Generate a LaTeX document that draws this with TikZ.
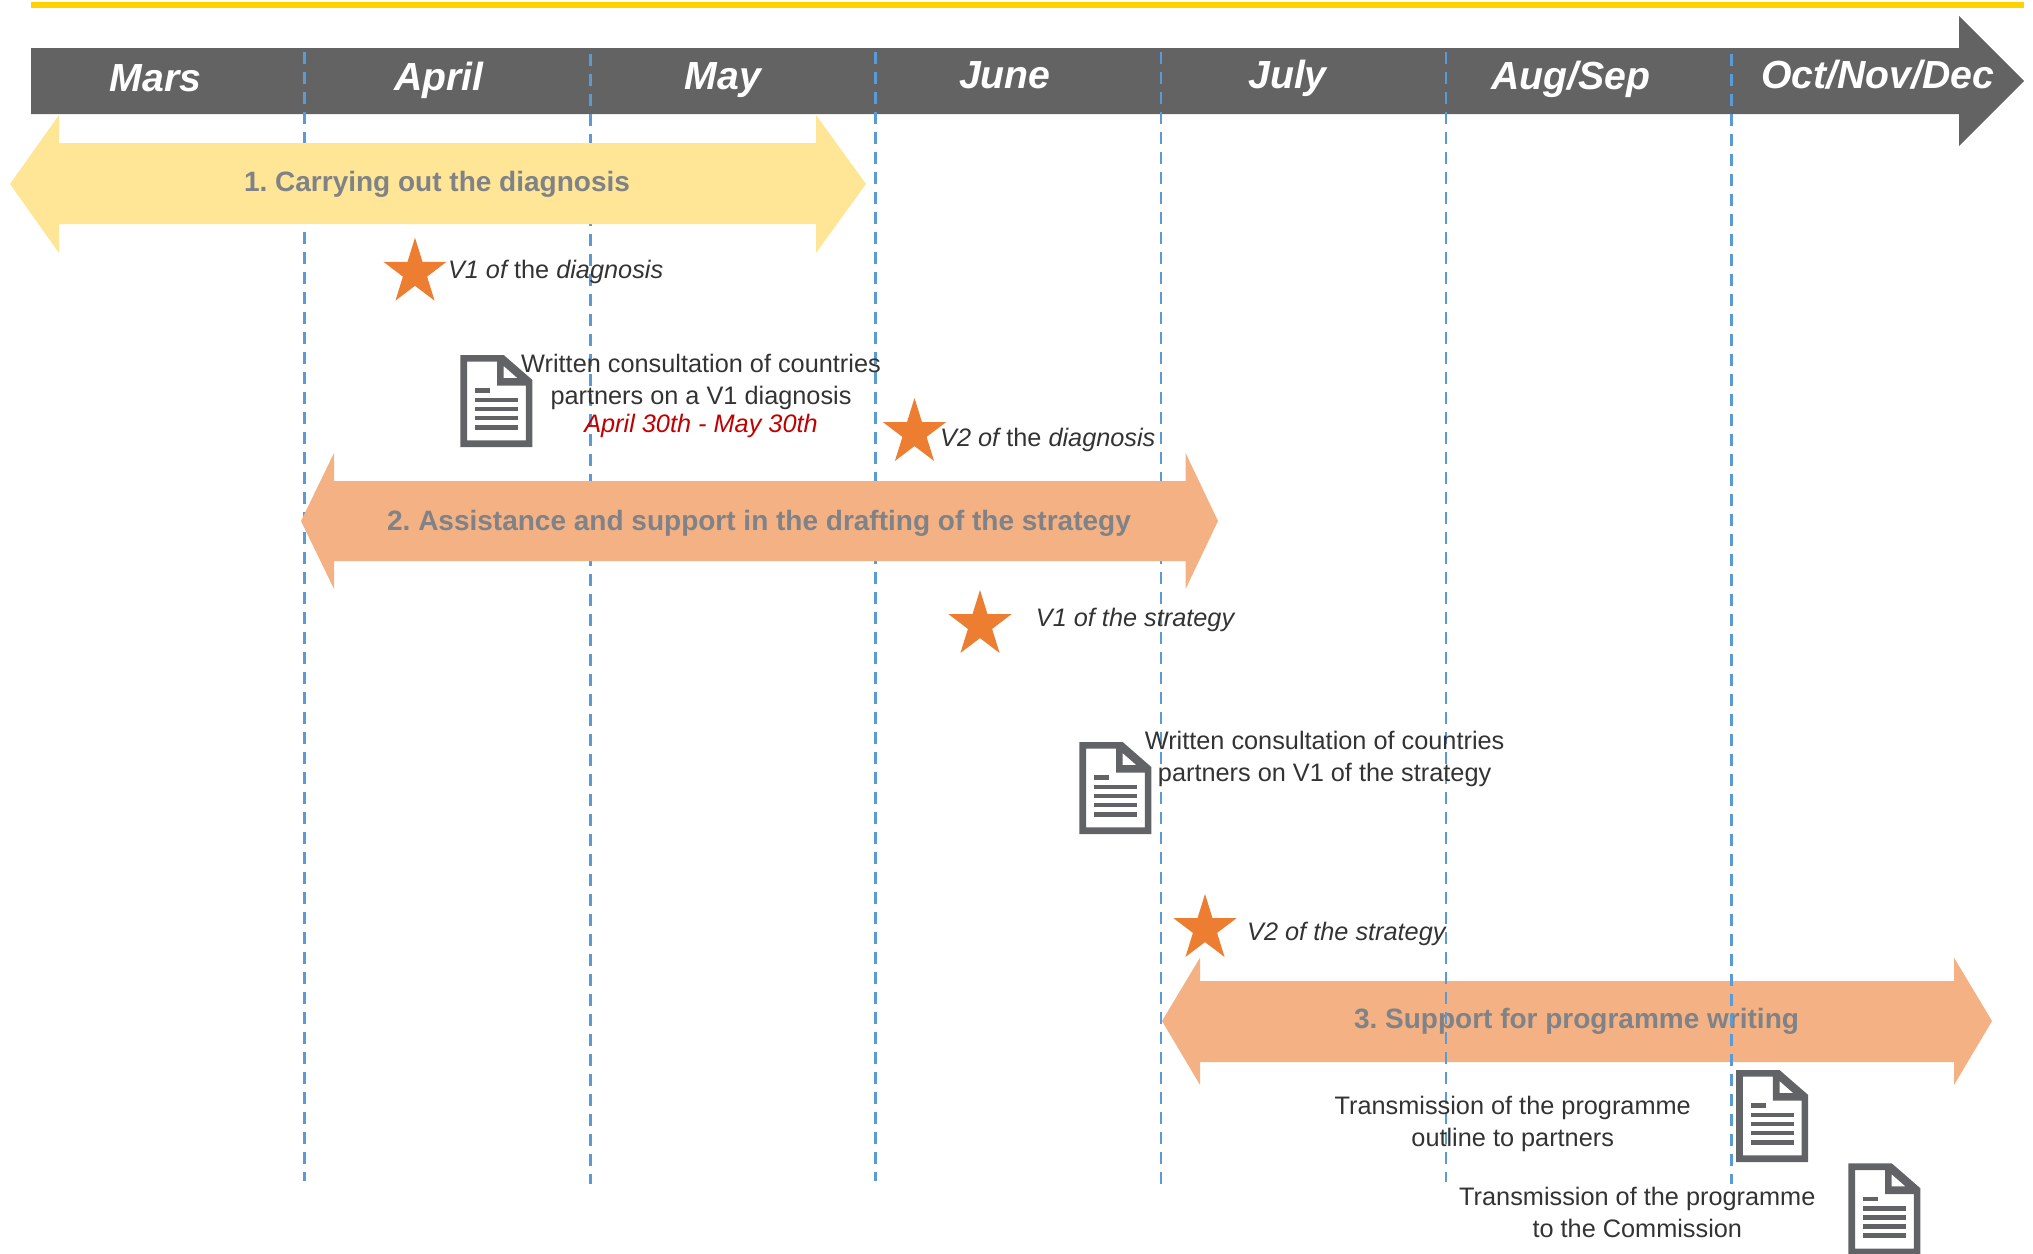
\documentclass[tikz,border=0pt]{standalone}
\usepackage{fontspec}
\setmainfont{Liberation Sans}
\frenchspacing
\definecolor{barGrey}{HTML}{636363}
\definecolor{topYellow}{HTML}{FFD200}
\definecolor{softYellow}{HTML}{FFE596}
\definecolor{softOrange}{HTML}{F4B183}
\definecolor{starOrange}{HTML}{ED7D31}
\definecolor{guideBlue}{HTML}{5B9BD5}
\definecolor{labelGrey}{HTML}{7F8287}
\definecolor{noteInk}{HTML}{333333}
\definecolor{dateRed}{HTML}{C00000}
\definecolor{docGrey}{HTML}{626366}
\tikzset{
  barlabel/.style={anchor=base,inner sep=0pt,text=white,font=\fontsize{39.2}{44}\selectfont\bfseries\itshape},
  arrowlabel/.style={anchor=base,inner sep=0pt,text=labelGrey,font=\fontsize{28}{32}\selectfont\bfseries},
  note/.style={anchor=base,inner sep=0pt,text=noteInk,align=center,font=\fontsize{25.3}{32}\selectfont},
  starnote/.style={anchor=base west,inner sep=0pt,text=noteInk,font=\fontsize{25.3}{32}\selectfont},
  guide/.style={draw=guideBlue,line width=2.7pt,dash pattern=on 12pt off 8pt},
  mstar/.pic={
    \fill[starOrange,x=33.3pt,y=-34.8pt] (0,-1)--(0.2245,-0.309)--(0.951,-0.309)--(0.363,0.118)--(0.588,0.809)--(0,0.382)--(-0.588,0.809)--(-0.363,0.118)--(-0.951,-0.309)--(-0.2245,-0.309)--cycle;
  },
  mdoc/.pic={
    \fill[docGrey,even odd rule] (0,0)--(43.3,0)--(72,25)--(72,92)--(0,92)--cycle
      (6.7,6.7)--(36.7,6.7)--(36.7,30.7)--(65.5,30.7)--(65.5,85.3)--(6.7,85.3)--cycle
      (43.3,11)--(43.3,23)--(57,23)--cycle;
    \fill[docGrey] (14.3,33.3) rectangle (29.3,38);
    \foreach \ly in {42.7,51.7,60.7,70}{\fill[docGrey] (14.3,\ly) rectangle (58,\ly+4.6);}
  },
}
\begin{document}
\begin{tikzpicture}[x=1pt,y=-1pt]
\useasboundingbox (0,0) rectangle (2033,1253);
\clip (0,0) rectangle (2033,1253);
% top rule and month bar
\fill[topYellow] (31,2) rectangle (2024,8);
\fill[barGrey] (31,48)--(1959,48)--(1959,16)--(2024,81)--(1959,146)--(1959,114)--(31,114)--cycle;
% phase 3 sits under the guides
\fill[softOrange] (1162,1021)--(1200,957.7)--(1200,981)--(1954,981)--(1954,957.7)--(1992,1021)--(1954,1085)--(1954,1062)--(1200,1062)--(1200,1085)--cycle;
\node[arrowlabel] (p3) at (1576.5,1028) {3. Support for programme writing};
% guides
\coordinate (g1a) at (304.3,52); \coordinate (g1b) at (304.3,1181);
\coordinate (g2a) at (590.3,54); \coordinate (g2b) at (590.3,1184);
\coordinate (g3a) at (875.4,52); \coordinate (g3b) at (875.4,1181);
\coordinate (g4a) at (1161,52);  \coordinate (g4b) at (1161,1187);
\coordinate (g5a) at (1446,52);  \coordinate (g5b) at (1446,1182);
\coordinate (g6a) at (1731.5,54);\coordinate (g6b) at (1731.5,1184);
\foreach \g in {1,...,6}{\draw[guide] (g\g a) -- (g\g b);}
% phases 1 and 2 cover the guides
\fill[softYellow] (10,184)--(59,115)--(59,143)--(816,143)--(816,115)--(866,184)--(816,253)--(816,224)--(59,224)--(59,253)--cycle;
\node[arrowlabel] (p1) at (437,191.7) {1. Carrying out the diagnosis};
\fill[softOrange] (301,521)--(334,453)--(334,481)--(1185.6,481)--(1185.6,453)--(1218,521)--(1185.6,589)--(1185.6,561)--(334,561)--(334,589)--cycle;
\node[arrowlabel] (p2) at (759,530) {2. Assistance and support in the drafting of the strategy};
% months
\node[barlabel] (m1) at (155.6,91.5) {Mars};
\node[barlabel] (m2) at (439,90) {April};
\node[barlabel] (m3) at (722.7,89.5) {May};
\node[barlabel] (m4) at (1004.9,88) {June};
\node[barlabel] (m5) at (1287.5,88) {July};
\node[barlabel] (m6) at (1570.5,89) {Aug/Sep};
\node[barlabel] (m7) at (1877.6,88) {Oct/Nov/Dec};
% stars
\pic at (415,272.5) {mstar};
\pic at (914.5,432.8) {mstar};
\pic at (980,624.8) {mstar};
\pic at (1205,928.8) {mstar};
\node[starnote] (s1) at (447.8,278) {\itshape V1 of \upshape the \itshape diagnosis};
\node[starnote] (s2) at (940,446) {\itshape V2 of \upshape the \itshape diagnosis};
\node[starnote] (s3) at (1035.7,626.7) {\itshape V1 of the strategy};
\node[starnote] (s4) at (1247,940.7) {\itshape V2 of the strategy};
% documents
\pic at (460.4,355) {mdoc};
\pic at (1079.3,742) {mdoc};
\pic at (1736.2,1070) {mdoc};
\pic at (1848.4,1163.3) {mdoc};
\node[note] (n1) at (701,404) {Written consultation of countries\\partners on a V1 diagnosis};
\node[note,text=dateRed,font=\fontsize{25.3}{32}\selectfont\itshape] (n1d) at (701,432.7) {April 30th - May 30th};
\node[note] (n2) at (1324.6,781) {Written consultation of countries\\partners on V1 of the strategy};
\node[note] (n3) at (1512.7,1146.7) {Transmission of the programme\\outline to partners};
\node[note] (n4) at (1637.3,1237) {Transmission of the programme\\to the Commission};
\end{tikzpicture}
\end{document}
